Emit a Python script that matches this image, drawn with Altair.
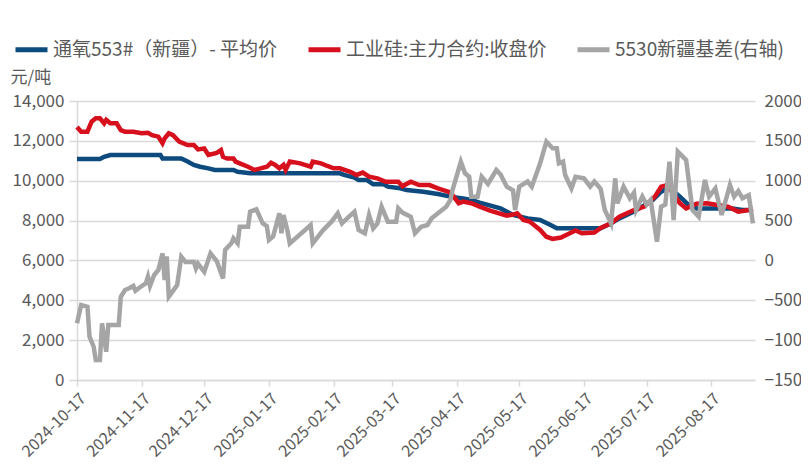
import altair as alt
import pandas as pd

S_BLUE = "通氧553#（新疆）- 平均价"
S_RED = "工业硅:主力合约:收盘价"
S_GRAY = "5530新疆基差(右轴)"

blue_dates = ["2024-10-17","2024-10-28","2024-10-30","2024-11-02","2024-11-26","2024-11-27","2024-12-06","2024-12-09",
              "2024-12-12","2024-12-15","2024-12-19","2024-12-22","2024-12-31","2025-01-02","2025-01-08","2025-02-20",
              "2025-02-22","2025-02-27","2025-03-01","2025-03-05","2025-03-08","2025-03-13","2025-03-15","2025-03-21",
              "2025-03-24","2025-04-01","2025-04-08","2025-04-14","2025-04-20","2025-04-24","2025-04-28","2025-05-08",
              "2025-05-14","2025-05-21","2025-05-27","2025-06-01","2025-06-04","2025-06-25","2025-06-30","2025-07-04",
              "2025-07-11","2025-07-20","2025-07-24","2025-07-28","2025-08-02","2025-08-07","2025-08-10","2025-08-27",
              "2025-09-01","2025-09-06"]
blue_vals = [11090,11090,11200,11290,11290,11120,11120,10960,
             10790,10700,10620,10540,10540,10450,10370,10370,
             10290,10160,10030,10030,9820,9820,9700,9620,
             9530,9450,9330,9200,9110,9030,8900,8610,
             8280,8110,8030,7780,7610,7610,7860,8110,
             8450,9030,9450,9650,9200,8700,8610,8610,
             8530,8530]

red_dates = ["2024-10-17","2024-10-19","2024-10-22","2024-10-24","2024-10-26","2024-10-28","2024-10-30","2024-10-31",
             "2024-11-02","2024-11-05","2024-11-07","2024-11-09","2024-11-13","2024-11-17","2024-11-20","2024-11-22",
             "2024-11-25","2024-11-27","2024-11-28","2024-11-30","2024-12-02","2024-12-05","2024-12-09","2024-12-12",
             "2024-12-14","2024-12-17","2024-12-19","2024-12-23","2024-12-25","2024-12-26","2024-12-28","2024-12-31",
             "2025-01-01","2025-01-03","2025-01-07","2025-01-10","2025-01-13","2025-01-16","2025-01-18","2025-01-20",
             "2025-01-22","2025-01-24","2025-01-25","2025-01-27","2025-02-01","2025-02-06","2025-02-07","2025-02-11",
             "2025-02-14","2025-02-17","2025-02-20","2025-02-25","2025-02-28","2025-03-03","2025-03-06","2025-03-10",
             "2025-03-14","2025-03-20","2025-03-22","2025-03-26","2025-03-30","2025-04-04","2025-04-08","2025-04-13",
             "2025-04-15","2025-04-18","2025-04-20","2025-04-24","2025-04-28","2025-05-03","2025-05-11","2025-05-14",
             "2025-05-16","2025-05-19","2025-05-22","2025-05-27","2025-05-30","2025-06-02","2025-06-06","2025-06-09",
             "2025-06-13","2025-06-16","2025-06-22","2025-06-25","2025-06-30","2025-07-04","2025-07-11","2025-07-16",
             "2025-07-21","2025-07-24","2025-07-27","2025-08-02","2025-08-05","2025-08-10","2025-08-15","2025-08-20",
             "2025-08-25","2025-08-30","2025-09-04","2025-09-06"]
red_vals = [12700,12460,12460,12960,13130,13130,12880,13050,
            12880,12880,12540,12460,12460,12380,12410,12290,
            12210,11880,12120,12380,12290,11960,11790,11790,
            11570,11620,11290,11400,11540,11200,11120,11120,
            10960,10870,10700,10540,10620,10700,10900,10790,
            10620,10790,10540,10960,10870,10700,10960,10870,
            10740,10620,10620,10450,10290,10410,10200,10120,
            9950,9950,9730,9950,9780,9780,9620,9450,
            9280,8870,8950,8870,8700,8500,8250,8300,
            8360,8030,7950,7530,7190,7080,7150,7300,
            7500,7360,7400,7630,7860,8190,8530,8700,
            9200,9700,9780,8870,8610,8850,8870,8780,
            8700,8450,8530,8600]

gray_dates = ["2024-10-17","2024-10-19","2024-10-22","2024-10-23","2024-10-25","2024-10-26","2024-10-28","2024-10-29",
              "2024-10-31","2024-11-01","2024-11-06","2024-11-07","2024-11-09","2024-11-11","2024-11-13","2024-11-14",
              "2024-11-17","2024-11-19","2024-11-20","2024-11-21","2024-11-23","2024-11-25","2024-11-27","2024-11-28",
              "2024-11-29","2024-11-30","2024-12-01","2024-12-04","2024-12-06","2024-12-08","2024-12-12","2024-12-13",
              "2024-12-14","2024-12-17","2024-12-20","2024-12-23","2024-12-26","2024-12-27","2024-12-30","2024-12-31",
              "2025-01-02","2025-01-03","2025-01-07","2025-01-08","2025-01-11","2025-01-14","2025-01-16","2025-01-17",
              "2025-01-19","2025-01-22","2025-01-23","2025-01-24","2025-01-26","2025-01-27","2025-02-06","2025-02-07",
              "2025-02-12","2025-02-16","2025-02-19","2025-02-21","2025-02-24","2025-02-27","2025-03-01","2025-03-04",
              "2025-03-06","2025-03-08","2025-03-10","2025-03-12","2025-03-15","2025-03-19","2025-03-20","2025-03-22",
              "2025-03-26","2025-03-28","2025-03-31","2025-04-03","2025-04-05","2025-04-08","2025-04-12","2025-04-14",
              "2025-04-15","2025-04-19","2025-04-21","2025-04-23","2025-04-24","2025-04-27","2025-04-29","2025-05-02",
              "2025-05-06","2025-05-08","2025-05-11","2025-05-14","2025-05-15","2025-05-17","2025-05-21","2025-05-23",
              "2025-05-27","2025-05-30","2025-06-02","2025-06-04","2025-06-05","2025-06-07","2025-06-08","2025-06-11",
              "2025-06-13","2025-06-17","2025-06-20","2025-06-22","2025-06-25","2025-06-27","2025-06-30","2025-07-02",
              "2025-07-03","2025-07-06","2025-07-09","2025-07-11","2025-07-12","2025-07-15","2025-07-17","2025-07-19",
              "2025-07-22","2025-07-24","2025-07-26","2025-07-28","2025-07-30","2025-08-01","2025-08-05","2025-08-08",
              "2025-08-11","2025-08-14","2025-08-16","2025-08-19","2025-08-22","2025-08-26","2025-08-28","2025-08-30",
              "2025-09-01","2025-09-04","2025-09-06"]
gray_vals = [-789,-560,-580,-957,-1083,-1250,-1250,-789,
             -1145,-810,-810,-455,-371,-350,-321,-380,
             -321,-288,-204,-321,-183,-120,89,-246,
             50,-455,-420,-309,46,-20,-16,-100,
             -40,-142,89,-10,-225,130,214,277,
             214,423,423,611,641,465,430,256,
             300,591,340,570,360,214,444,214,
             381,486,591,465,540,611,381,340,
             570,402,465,674,486,486,653,600,
             548,340,423,444,528,591,674,758,
             883,1238,1093,1050,799,800,1050,960,
             1134,1080,925,880,632,925,990,925,
             1218,1489,1406,1406,1218,1240,1071,904,
             1050,1030,925,990,900,632,465,1030,
             716,925,779,850,632,800,700,760,
             235,674,700,1238,507,1364,1259,632,
             548,1009,800,904,570,946,800,870,
             780,820,465]

left_ticks = [0, 2000, 4000, 6000, 8000, 10000, 12000, 14000]
right_ticks = [-1500, -1000, -500, 0, 500, 1000, 1500, 2000]
x_tick_months = [(2024, 10), (2024, 11), (2024, 12), (2025, 1), (2025, 2), (2025, 3),
                 (2025, 4), (2025, 5), (2025, 6), (2025, 7), (2025, 8)]

left_df = pd.concat([
    pd.DataFrame({"date": blue_dates, "value": blue_vals, "series": S_BLUE}),
    pd.DataFrame({"date": red_dates, "value": red_vals, "series": S_RED}),
], ignore_index=True)
gray_df = pd.DataFrame({"date": gray_dates, "value": gray_vals, "series": S_GRAY})

TXT = "#595959"
GRID = "#D9D9D9"

color_scale = alt.Scale(domain=[S_BLUE, S_RED, S_GRAY], range=["#0D4A7E", "#D7101E", "#A5A5A5"])
legend = alt.Legend(title=None, orient="none", legendX=-64, legendY=-70, direction="horizontal",
                    symbolType="stroke", symbolSize=1024, symbolStrokeWidth=5,
                    labelFontSize=19, labelColor=TXT, columnPadding=20, labelOffset=3, labelLimit=400)

x_enc = alt.X("date:T",
              scale=alt.Scale(type="utc",
                              domain=[alt.DateTime(year=2024, month=10, date=17, utc=True),
                                      alt.DateTime(year=2025, month=9, date=7, utc=True)]),
              axis=alt.Axis(values=[alt.DateTime(year=y, month=m, date=17, utc=True) for y, m in x_tick_months],
                            format="%Y-%m-%d", labelAngle=-45, labelFontSize=16, labelColor=TXT,
                            labelOverlap=False, labelBound=False,
                            grid=False, domainColor=GRID, domainWidth=1.5, tickColor=GRID, tickSize=6,
                            tickWidth=1.5, labelPadding=4, title=None))

left = alt.Chart(left_df).mark_line(strokeWidth=4.5).encode(
    x=x_enc,
    y=alt.Y("value:Q", scale=alt.Scale(domain=[0, 14000]),
            axis=alt.Axis(values=left_ticks, format=",.0f", grid=True, gridColor=GRID, gridWidth=1.5,
                          domainColor=GRID, domainWidth=1.5, tickColor=GRID, tickSize=8, tickWidth=1.5,
                          labelFontSize=17, labelColor=TXT, labelPadding=5,
                          title="元/吨", titleAngle=0, titleX=-67, titleY=-15, titleAlign="left",
                          titleFontSize=17, titleFontWeight="normal", titleColor=TXT)),
    color=alt.Color("series:N", scale=color_scale, legend=legend),
)

right = alt.Chart(gray_df).mark_line(strokeWidth=4.5).encode(
    x=x_enc,
    y=alt.Y("value:Q", scale=alt.Scale(domain=[-1500, 2000]),
            axis=alt.Axis(orient="right", values=right_ticks, format="d", grid=False, domain=False,
                          ticks=False, labelFontSize=17, labelColor=TXT, labelPadding=9, title=None)),
    color=alt.Color("series:N", scale=color_scale, legend=legend),
)

chart = alt.layer(left, right).resolve_scale(y="independent").properties(
    width=678, height=279,
    padding={"left": 69, "top": 93, "right": 46, "bottom": 80},
    autosize=alt.AutoSizeParams(type="none"),
).configure(font="Noto Sans CJK SC").configure_view(stroke=None)

chart.save("out.html", embed_options={"renderer": "svg", "actions": False})
